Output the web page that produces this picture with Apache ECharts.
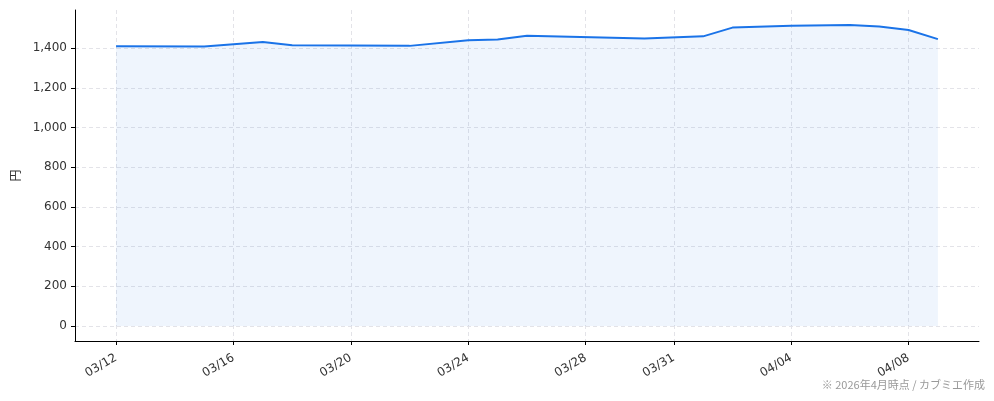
<!DOCTYPE html>
<html>
<head>
<meta charset="utf-8">
<script src="https://cdn.jsdelivr.net/npm/echarts@6/dist/echarts.min.js"></script>
<style>
    html, body { margin: 0; padding: 0; background: #fff; }
    #chart { width: 994px; height: 401px; }
</style>
</head>
<body>
<div id="chart"></div>
<script>
// price per share
var dates = ['2026-03-12', '2026-03-15', '2026-03-17', '2026-03-18', '2026-03-22', '2026-03-24',
    '2026-03-25', '2026-03-26', '2026-03-30', '2026-04-01', '2026-04-02', '2026-04-04',
    '2026-04-06', '2026-04-07', '2026-04-08', '2026-04-09']
var prices = [1410, 1409, 1431, 1415, 1412, 1440, 1444, 1463, 1449, 1460, 1504, 1513, 1517, 1510, 1492, 1446]
var xTicks = ['2026-03-12', '2026-03-16', '2026-03-20', '2026-03-24', '2026-03-28', '2026-03-31', '2026-04-04', '2026-04-08']
var yTicks = [0, 200, 400, 600, 800, 1000, 1200, 1400]

// dates as day numbers so a plain value axis can carry them
function toDay(s) {
    var p = s.split('-')
    return Date.UTC(+p[0], +p[1] - 1, +p[2]) / 86400000
}
function pad(n) { return (n < 10 ? '0' : '') + n }

var d0 = toDay(dates[0])
var d1 = toDay(dates[dates.length - 1])
var xPad = (d1 - d0) * 0.05
var yMax = Math.max.apply(null, prices)
var yPad = yMax * 0.05

var font = 'DejaVu Sans'
var chartDom = document.getElementById('chart')
var myChart = echarts.init(chartDom)
var options = {
    animation: false,
    grid: { left: 75, right: 15, top: 10, bottom: 60, outerBoundsMode: 'none', containLabel: false },
    xAxis: {
        type: 'value',
        min: d0 - xPad,
        max: d1 + xPad,
        axisLine: { onZero: false, lineStyle: { color: '#000', width: 1 } },
        axisTick: { show: true, length: 4, lineStyle: { color: '#000' }, customValues: xTicks.map(toDay) },
        axisLabel: {
            customValues: xTicks.map(toDay),
            rotate: 30,
            fontFamily: font,
            fontSize: 12,
            color: '#333',
            margin: 16,
            formatter: function (v) {
                var d = new Date(Math.round(v) * 86400000)
                return pad(d.getUTCMonth() + 1) + '/' + pad(d.getUTCDate())
            }
        },
        splitLine: { show: true, lineStyle: { color: '#e3e3e8', type: [4, 3] } }
    },
    yAxis: {
        type: 'value',
        min: -yPad,
        max: yMax + yPad,
        name: '円',
        nameLocation: 'middle',
        nameGap: 54,
        nameRotate: 90,
        nameTextStyle: { fontFamily: 'Noto Sans CJK JP', fontSize: 12, color: '#333' },
        axisLine: { show: true, lineStyle: { color: '#000', width: 1 } },
        axisTick: { show: true, length: 4, lineStyle: { color: '#000' }, customValues: yTicks },
        axisLabel: {
            customValues: yTicks,
            fontFamily: font,
            fontSize: 12,
            color: '#333',
            margin: 8,
            formatter: function (v) { return v.toLocaleString('en-US') }
        },
        splitLine: { show: true, lineStyle: { color: '#e3e3e8', type: [4, 3] } }
    },
    graphic: [
        {
            type: 'text',
            right: 9,
            bottom: 11,
            style: {
                text: '※ 2026年4月時点 / カブミエ作成',
                fontFamily: 'Noto Sans CJK JP',
                fontSize: 11,
                fill: '#999'
            }
        }
    ],
    series: [
        {
            type: 'line',
            data: dates.map(function (d, i) { return [toDay(d), prices[i]] }),
            showSymbol: false,
            lineStyle: { color: '#1a73e8', width: 2 },
            itemStyle: { color: '#1a73e8' },
            areaStyle: { color: 'rgba(26,115,232,0.1)', origin: 0 }
        }
    ]
}
myChart.setOption(options)
</script>
</body>
</html>
